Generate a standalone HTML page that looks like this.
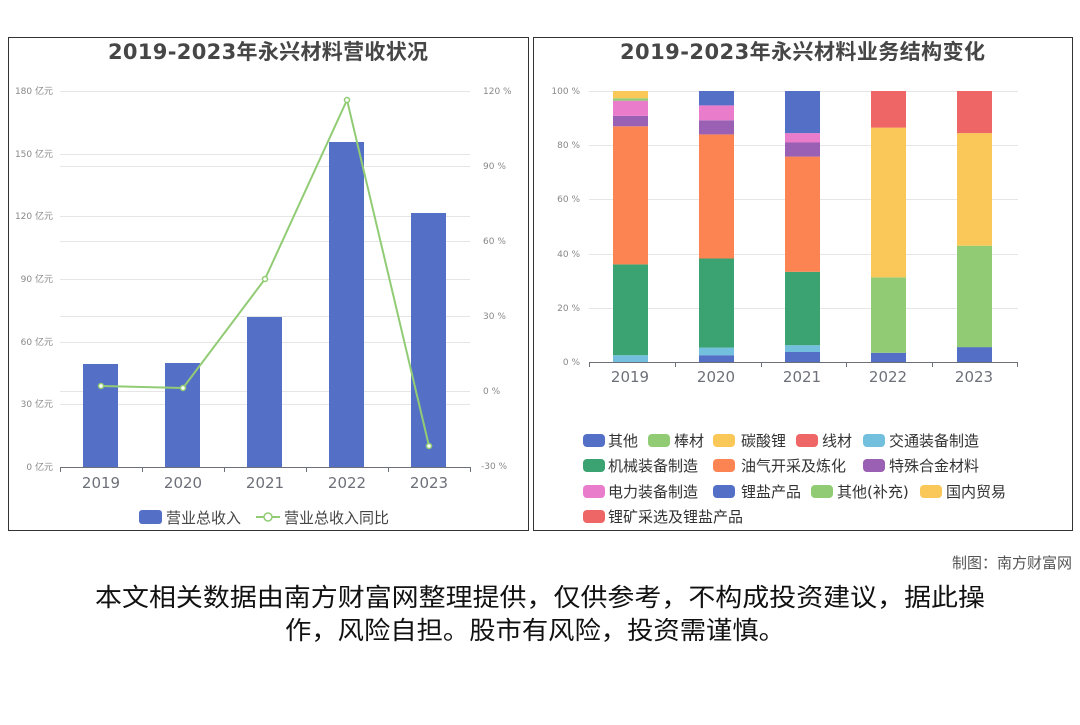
<!DOCTYPE html>
<html><head><meta charset="utf-8"><style>
body{margin:0;background:#fff;width:1080px;height:720px;overflow:hidden;font-family:"Liberation Sans","Noto Sans CJK SC",sans-serif}
</style></head><body>
<svg width="1080" height="720" xmlns="http://www.w3.org/2000/svg" font-family="DejaVu Sans, Noto Sans CJK SC, sans-serif">
<rect x="8.5" y="37.5" width="520" height="493" fill="#fff" stroke="#333"/>
<rect x="533.5" y="37.5" width="539" height="493" fill="#fff" stroke="#333"/>
<text x="108" y="59" font-size="21" font-weight="bold" fill="#464646" textLength="320" lengthAdjust="spacing">2019-2023年永兴材料营收状况</text>
<text x="620" y="59" font-size="21" font-weight="bold" fill="#464646" textLength="365" lengthAdjust="spacing">2019-2023年永兴材料业务结构变化</text>
<g stroke="#e6e6e6" stroke-width="1">
<line x1="60" x2="470" y1="91.5" y2="91.5"/><line x1="60" x2="470" y1="154.5" y2="154.5"/><line x1="60" x2="470" y1="216.5" y2="216.5"/><line x1="60" x2="470" y1="279.5" y2="279.5"/><line x1="60" x2="470" y1="342.5" y2="342.5"/><line x1="60" x2="470" y1="404.5" y2="404.5"/>
<line x1="60" x2="470" y1="166.5" y2="166.5"/><line x1="60" x2="470" y1="241.5" y2="241.5"/><line x1="60" x2="470" y1="316.5" y2="316.5"/><line x1="60" x2="470" y1="391.5" y2="391.5"/>
</g>
<g font-size="9" fill="#888" text-anchor="end">
<text x="53" y="94">180 亿元</text><text x="53" y="157">150 亿元</text><text x="53" y="219">120 亿元</text><text x="53" y="282">90 亿元</text><text x="53" y="345">60 亿元</text><text x="53" y="407">30 亿元</text><text x="53" y="470">0 亿元</text>
</g>
<g font-size="9" fill="#888">
<text x="483" y="94">120 %</text><text x="483" y="169">90 %</text><text x="483" y="244">60 %</text><text x="483" y="319">30 %</text><text x="483" y="394">0 %</text><text x="481" y="469">-30 %</text>
</g>
<g fill="#5470c6">
<rect x="83" y="364" width="35" height="103"/><rect x="165" y="363" width="35" height="104"/><rect x="247" y="317" width="35" height="150"/><rect x="329" y="142" width="35" height="325"/><rect x="411" y="213" width="35" height="254"/>
</g>
<line x1="60" x2="470" y1="467.5" y2="467.5" stroke="#6e7079"/>
<g stroke="#6e7079"><line x1="60.5" x2="60.5" y1="467" y2="472"/><line x1="142.5" x2="142.5" y1="467" y2="472"/><line x1="224.5" x2="224.5" y1="467" y2="472"/><line x1="306.5" x2="306.5" y1="467" y2="472"/><line x1="388.5" x2="388.5" y1="467" y2="472"/><line x1="470.5" x2="470.5" y1="467" y2="472"/></g>
<g font-size="15" fill="#6e7079" text-anchor="middle">
<text x="101" y="488">2019</text><text x="183" y="488">2020</text><text x="265" y="488">2021</text><text x="347" y="488">2022</text><text x="429" y="488">2023</text>
</g>
<polyline points="101,386 183,388 265,279 347,100 429,446" fill="none" stroke="#91cc75" stroke-width="2"/>
<g fill="#fff" stroke="#91cc75" stroke-width="1.5">
<circle cx="101" cy="386" r="2.5"/><circle cx="183" cy="388" r="2.5"/><circle cx="265" cy="279" r="2.5"/><circle cx="347" cy="100" r="2.5"/><circle cx="429" cy="446" r="2.5"/>
</g>
<rect x="139" y="510" width="23" height="14" rx="3" fill="#5470c6"/>
<text x="166" y="523" font-size="15" fill="#444">营业总收入</text>
<line x1="256" x2="280" y1="517" y2="517" stroke="#91cc75" stroke-width="2"/>
<circle cx="268" cy="517" r="4" fill="#fff" stroke="#91cc75" stroke-width="1.5"/>
<text x="284" y="523" font-size="15" fill="#444">营业总收入同比</text>
<g stroke="#e6e6e6"><line x1="589" x2="1018" y1="91.5" y2="91.5"/><line x1="589" x2="1018" y1="145.5" y2="145.5"/><line x1="589" x2="1018" y1="199.5" y2="199.5"/><line x1="589" x2="1018" y1="254.5" y2="254.5"/><line x1="589" x2="1018" y1="308.5" y2="308.5"/></g>
<g font-size="9" fill="#888" text-anchor="end">
<text x="580" y="94">100 %</text><text x="580" y="148">80 %</text><text x="580" y="202">60 %</text><text x="580" y="257">40 %</text><text x="580" y="311">20 %</text><text x="580" y="365">0 %</text>
</g>
<g>
<rect x="613" y="355.2" width="35" height="6.8" fill="#73c0de"/>
<rect x="613" y="264.4" width="35" height="90.8" fill="#3ba272"/>
<rect x="613" y="126.3" width="35" height="138.1" fill="#fc8452"/>
<rect x="613" y="115.9" width="35" height="10.4" fill="#9a60b4"/>
<rect x="613" y="100.7" width="35" height="15.2" fill="#ea7ccc"/>
<rect x="613" y="98.3" width="35" height="2.4" fill="#91cc75"/>
<rect x="613" y="91" width="35" height="7.3" fill="#fac858"/>
</g>
<g>
<rect x="699" y="355.2" width="35" height="6.8" fill="#5470c6"/>
<rect x="699" y="347.6" width="35" height="7.6" fill="#73c0de"/>
<rect x="699" y="258.5" width="35" height="89.1" fill="#3ba272"/>
<rect x="699" y="134.4" width="35" height="124.1" fill="#fc8452"/>
<rect x="699" y="120.3" width="35" height="14.1" fill="#9a60b4"/>
<rect x="699" y="105.4" width="35" height="14.9" fill="#ea7ccc"/>
<rect x="699" y="91" width="35" height="14.4" fill="#5470c6"/>
</g>
<g>
<rect x="785" y="352" width="35" height="10" fill="#5470c6"/>
<rect x="785" y="345.2" width="35" height="6.8" fill="#73c0de"/>
<rect x="785" y="271.8" width="35" height="73.4" fill="#3ba272"/>
<rect x="785" y="156.6" width="35" height="115.2" fill="#fc8452"/>
<rect x="785" y="142.5" width="35" height="14.1" fill="#9a60b4"/>
<rect x="785" y="133.1" width="35" height="9.4" fill="#ea7ccc"/>
<rect x="785" y="91" width="35" height="42.1" fill="#5470c6"/>
</g>
<g>
<rect x="871" y="352.8" width="35" height="9.2" fill="#5470c6"/>
<rect x="871" y="277.4" width="35" height="75.4" fill="#91cc75"/>
<rect x="871" y="127.6" width="35" height="149.8" fill="#fac858"/>
<rect x="871" y="91" width="35" height="36.6" fill="#ee6666"/>
</g>
<g>
<rect x="957" y="347.1" width="35" height="14.9" fill="#5470c6"/>
<rect x="957" y="245.7" width="35" height="101.4" fill="#91cc75"/>
<rect x="957" y="133.1" width="35" height="112.6" fill="#fac858"/>
<rect x="957" y="91" width="35" height="42.1" fill="#ee6666"/>
</g>
<line x1="589" x2="1018" y1="362.5" y2="362.5" stroke="#6e7079"/>
<g stroke="#6e7079"><line x1="589.5" x2="589.5" y1="362" y2="367"/><line x1="675.5" x2="675.5" y1="362" y2="367"/><line x1="761.5" x2="761.5" y1="362" y2="367"/><line x1="846.5" x2="846.5" y1="362" y2="367"/><line x1="932.5" x2="932.5" y1="362" y2="367"/><line x1="1017.5" x2="1017.5" y1="362" y2="367"/></g>
<g font-size="15" fill="#6e7079" text-anchor="middle">
<text x="630" y="382">2019</text><text x="716" y="382">2020</text><text x="802" y="382">2021</text><text x="888" y="382">2022</text><text x="974" y="382">2023</text>
</g>
<g font-size="15" fill="#333">
<rect x="583" y="434" width="22" height="13" rx="4" fill="#5470c6"/><text x="608" y="446">其他</text>
<rect x="648" y="434" width="22" height="13" rx="4" fill="#91cc75"/><text x="674" y="446">棒材</text>
<rect x="713" y="434" width="22" height="13" rx="4" fill="#fac858"/><text x="741" y="446">碳酸锂</text>
<rect x="796" y="434" width="22" height="13" rx="4" fill="#ee6666"/><text x="822" y="446">线材</text>
<rect x="863" y="434" width="22" height="13" rx="4" fill="#73c0de"/><text x="889" y="446">交通装备制造</text>
<rect x="583" y="459" width="22" height="13" rx="4" fill="#3ba272"/><text x="608" y="471">机械装备制造</text>
<rect x="713" y="459" width="22" height="13" rx="4" fill="#fc8452"/><text x="741" y="471">油气开采及炼化</text>
<rect x="863" y="459" width="22" height="13" rx="4" fill="#9a60b4"/><text x="889" y="471">特殊合金材料</text>
<rect x="583" y="485" width="22" height="13" rx="4" fill="#ea7ccc"/><text x="608" y="497">电力装备制造</text>
<rect x="713" y="485" width="22" height="13" rx="4" fill="#5470c6"/><text x="741" y="497">锂盐产品</text>
<rect x="811" y="485" width="22" height="13" rx="4" fill="#91cc75"/><text x="837" y="497">其他(补充)</text>
<rect x="920" y="485" width="22" height="13" rx="4" fill="#fac858"/><text x="946" y="497">国内贸易</text>
<rect x="583" y="510" width="22" height="13" rx="4" fill="#ee6666"/><text x="608" y="522">锂矿采选及锂盐产品</text>
</g>
<text x="1072" y="568" text-anchor="end" font-size="15" fill="#555">制图：南方财富网</text>
<text x="95" y="606" font-size="25" fill="#111" textLength="890" lengthAdjust="spacingAndGlyphs">本文相关数据由南方财富网整理提供，仅供参考，不构成投资建议，据此操</text>
<text x="285" y="639" font-size="25" fill="#111" textLength="500" lengthAdjust="spacingAndGlyphs">作，风险自担。股市有风险，投资需谨慎。</text>
</svg>
</body></html>
